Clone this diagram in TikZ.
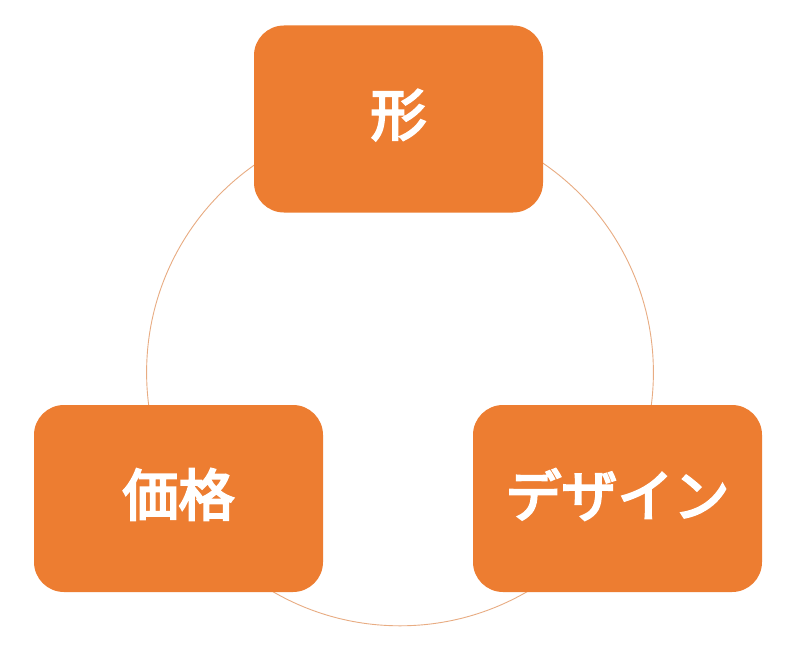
\documentclass[tikz,border=0pt]{standalone}
\usepackage{fontspec}
\newfontfamily\cjk{Noto Sans CJK JP}[FakeBold=4]
\definecolor{boxorange}{HTML}{ED7D31}
\definecolor{ringline}{HTML}{E8AC82}
\begin{document}
\begin{tikzpicture}[x=1pt,y=-1pt,
  cbox/.style={fill=boxorange, draw=none, rounded corners=30pt, minimum width=289pt, minimum height=187pt, inner sep=0pt},
  cbox label/.style={text=white, font=\cjk\fontsize{56}{60}\selectfont, yshift=4pt, inner sep=0pt}]
\useasboundingbox (0,0) rectangle (800,661);
\fill[white] (0,0) rectangle (800,661);
\coordinate (c) at (400,372.4);
\draw[ringline, line width=0.9pt] (c) circle[radius=253.4];
\node[cbox, label={[cbox label]center:形}] (form) at (398.5,119) {};
\node[cbox, label={[cbox label]center:価格}] (price) at (178.5,498.5) {};
\node[cbox, label={[cbox label]center:デザイン}] (design) at (617.5,498.5) {};
\end{tikzpicture}
\end{document}
